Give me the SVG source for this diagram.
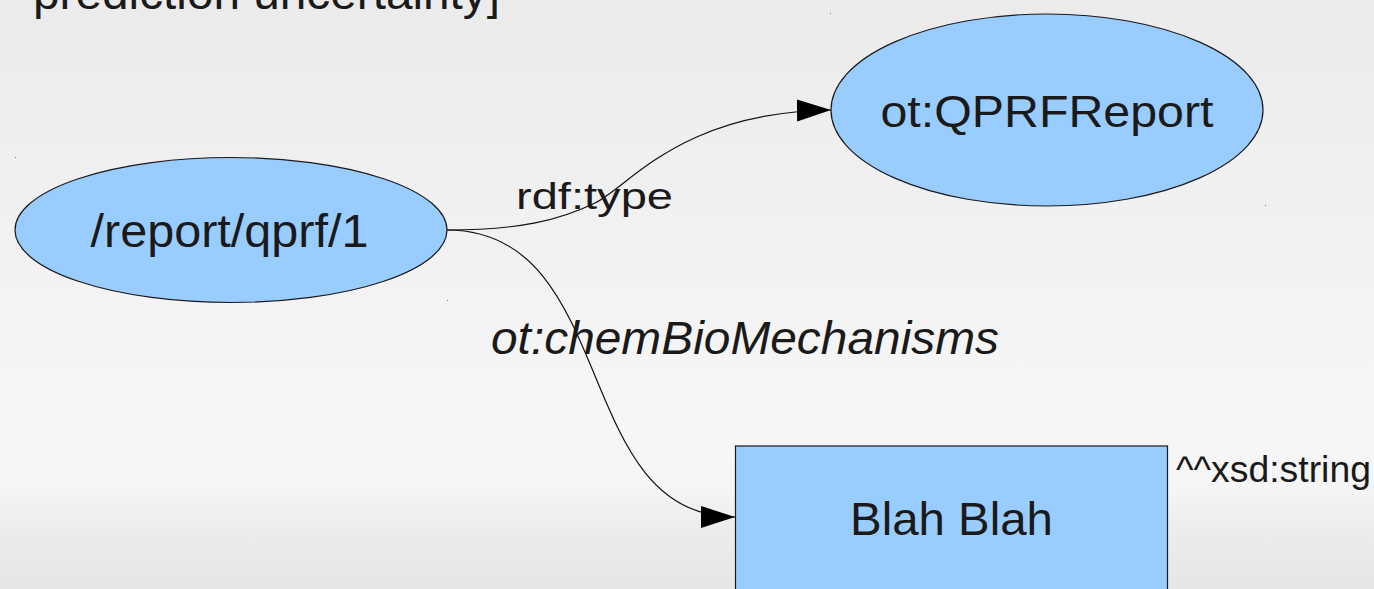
<svg xmlns="http://www.w3.org/2000/svg" width="1374" height="589" viewBox="0 0 1374 589">
  <defs>
    <linearGradient id="bg" x1="0" y1="0" x2="0" y2="1">
      <stop offset="0" stop-color="#ebebeb"/>
      <stop offset="0.68" stop-color="#f6f6f6"/>
      <stop offset="0.83" stop-color="#f5f5f5"/>
      <stop offset="0.90" stop-color="#ececec"/>
      <stop offset="1" stop-color="#e6e6e6"/>
    </linearGradient>
    <marker id="arrow" markerUnits="userSpaceOnUse" markerWidth="36" markerHeight="24" refX="34" refY="11" orient="auto">
      <path d="M0,0 L34,11 L0,22 Z" fill="#000"/>
    </marker>
    <style>
      .node { fill: #99ccff; stroke: #1a1a1a; stroke-width: 1.2; }
      .label { font-family: "Liberation Sans", Arial, sans-serif; fill: #1a1a1a; }
      .edge { fill: none; stroke: #111; stroke-width: 1.2; marker-end: url(#arrow); }
      .handle { fill: #777; }
    </style>
  </defs>

  <!-- slide background -->
  <rect x="0" y="0" width="1374" height="589" fill="url(#bg)"/>

  <!-- trailing line of the text above -->
  <text class="label" x="33" y="9" font-size="46" textLength="467" lengthAdjust="spacingAndGlyphs">prediction uncertainty]</text>

  <!-- connectors -->
  <g id="connectors">
    <path id="edge-type" class="edge" d="M447,230 C 520,230 560,220 595,203 S 680,112 831,110"/>
    <path id="edge-mech" class="edge" d="M447,230 C 620,230 570,517 735,517"/>
    <text class="label" x="516" y="209" font-size="37" textLength="157" lengthAdjust="spacingAndGlyphs">rdf:type</text>
    <text class="label" x="491" y="354" font-size="47" font-style="italic" textLength="508" lengthAdjust="spacingAndGlyphs">ot:chemBioMechanisms</text>
  </g>

  <!-- subject resource -->
  <g id="node-report">
    <ellipse class="node" cx="231" cy="230" rx="216" ry="72.5"/>
    <text class="label" x="229.5" y="247" font-size="46" text-anchor="middle" textLength="278" lengthAdjust="spacingAndGlyphs">/report/qprf/1</text>
    <rect class="handle" x="15" y="157" width="1" height="1"/>
    <rect class="handle" x="447" y="300" width="1" height="1"/>
  </g>

  <!-- class resource -->
  <g id="node-qprfreport">
    <ellipse class="node" cx="1047" cy="110" rx="216" ry="96"/>
    <text class="label" x="1047" y="127" font-size="45" text-anchor="middle" textLength="333" lengthAdjust="spacingAndGlyphs">ot:QPRFReport</text>
    <rect class="handle" x="830" y="13" width="1" height="1"/>
    <rect class="handle" x="1265" y="205" width="1" height="1"/>
  </g>

  <!-- literal value -->
  <g id="node-literal">
    <rect class="node" x="735.5" y="446" width="432" height="180"/>
    <text class="label" x="951.5" y="535" font-size="46" text-anchor="middle" textLength="203" lengthAdjust="spacingAndGlyphs">Blah Blah</text>
    <text class="label" x="1176" y="482" font-size="37" textLength="195" lengthAdjust="spacingAndGlyphs">^^xsd:string</text>
  </g>
</svg>
